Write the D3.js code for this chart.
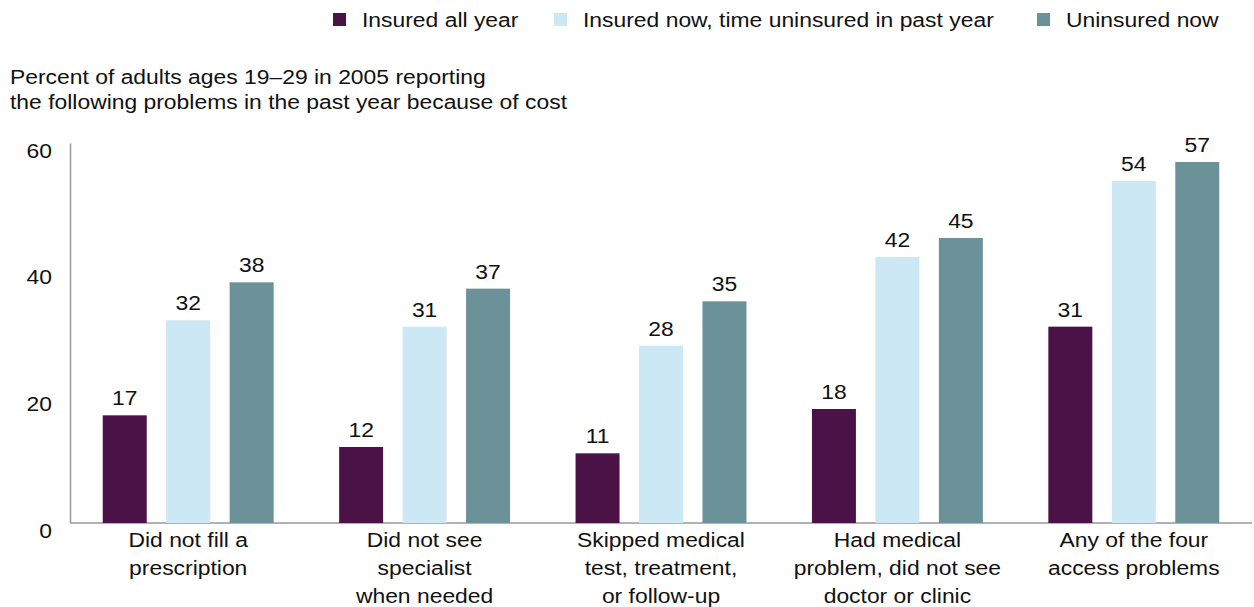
<!DOCTYPE html>
<html><head><meta charset="utf-8">
<script src="https://cdn.jsdelivr.net/npm/d3@7"></script>
<style>body{margin:0;background:#fff}svg{display:block;font-family:"Liberation Sans",Arial,sans-serif}</style>
</head><body><svg id="c" width="1254" height="607"></svg>
<script>
const categories = [
  ["Did not fill a","prescription"],
  ["Did not see","specialist","when needed"],
  ["Skipped medical","test, treatment,","or follow-up"],
  ["Had medical","problem, did not see","doctor or clinic"],
  ["Any of the four","access problems"]
];
const seriesNames = ["Insured all year","Insured now, time uninsured in past year","Uninsured now"];
const insuredAllYear = [17,12,11,18,31];
const insuredNowGap = [32,31,28,42,54];
const uninsuredNow = [38,37,35,45,57];
const yTicks = [0,20,40,60];
const colors = ["#4b1248","#cce8f4","#6b9199"];
const series = [insuredAllYear, insuredNowGap, uninsuredNow];

(function(){
const svg = d3.select("#c");
const SX = 1.09, FS = 21, INK = "#111";
const mLeft = 70, mRight = 1252, mTop = 143, mBottom = 523;
const x0 = d3.scaleBand().domain(d3.range(categories.length)).range([mLeft,mRight]).padding(0);
const x1 = d3.scaleBand().domain(d3.range(3)).range([0,x0.bandwidth()]).paddingInner(0.307).paddingOuter(0.516);
const y = d3.scaleLinear().domain([0,60]).range([mBottom,mTop]);

function txt(parent, x, yy, str, anchor){
  return parent.append("text").attr("transform",`translate(${x},${yy}) scale(${SX},1)`)
    .attr("text-anchor",anchor||"start").attr("font-size",FS).attr("fill",INK).text(str);
}

const yAxis = d3.axisLeft(y).tickValues(yTicks).tickSize(0).tickPadding(0).tickFormat(()=>"");
const ya = svg.append("g").attr("transform",`translate(${mLeft},0)`).call(yAxis);
ya.select(".domain").attr("stroke","#999").attr("stroke-width",1.5);
ya.selectAll(".tick").each(function(d){
  txt(d3.select(this), -18, 14, d, "end");
});

svg.append("line").attr("x1",mLeft).attr("x2",mRight).attr("y1",y(0)).attr("y2",y(0)).attr("stroke","#999").attr("stroke-width",1.5);

const g = svg.append("g");
categories.forEach((c,i)=>{
  series.forEach((s,j)=>{
    const xx = x0(i)+x1(j);
    g.append("rect").attr("x",xx).attr("y",y(s[i])).attr("width",x1.bandwidth()).attr("height",y(0)-y(s[i])).attr("fill",colors[j]);
    txt(g, xx+x1.bandwidth()/2, y(s[i])-10, s[i], "middle");
  });
  c.forEach((line,k)=>{
    txt(svg, x0(i)+x0.bandwidth()/2, 547+k*28, line, "middle");
  });
});

txt(svg, 10, 84, "Percent of adults ages 19–29 in 2005 reporting");
txt(svg, 10, 109, "the following problems in the past year because of cost");

const legX = [333,554,1037];
seriesNames.forEach((n,j)=>{
  svg.append("rect").attr("x",legX[j]).attr("y",13).attr("width",13).attr("height",13).attr("fill",colors[j]);
  txt(svg, legX[j]+29, 27, n);
});
})();
</script></body></html>
